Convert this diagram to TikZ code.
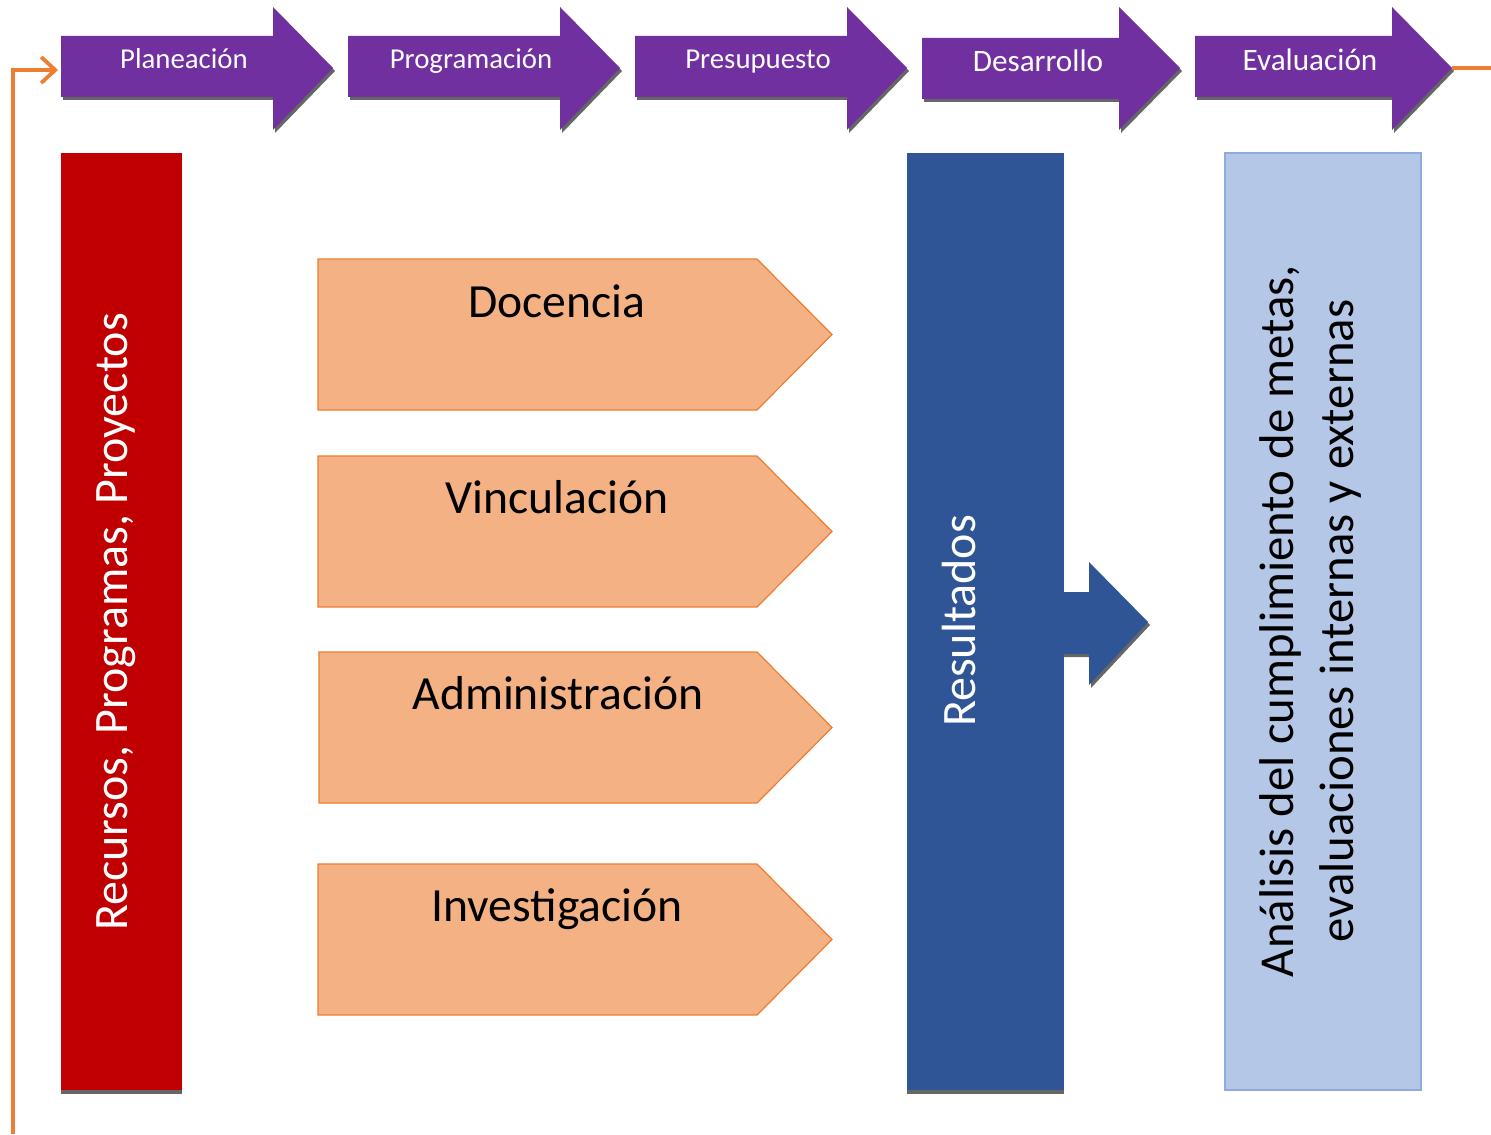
\documentclass[tikz,border=0pt]{standalone}
\usepackage{fontspec}
\setmainfont{Carlito}
\usepackage{tikz}
\usetikzlibrary{arrows.meta,shadows}

\definecolor{morado}{HTML}{7030A0}
\definecolor{rojo}{HTML}{C00000}
\definecolor{salmon}{HTML}{F4B183}
\definecolor{naranja}{HTML}{ED7D31}
\definecolor{azul}{HTML}{2F5597}
\definecolor{celeste}{HTML}{B4C7E7}
\definecolor{bordeceleste}{HTML}{8FAADC}

\tikzset{
  sombra/.style={drop shadow={shadow xshift=1pt, shadow yshift=-1.5pt, fill=black!60, opacity=1}},
  sombrabaja/.style={drop shadow={shadow xshift=0pt, shadow yshift=-2pt, fill=black!60, opacity=1}},
  etapa/.style={fill=morado, sombra},
  etapatxt/.style={text=white, anchor=base, inner sep=0pt},
  area/.style={fill=salmon, draw=naranja, line width=0.6pt},
  areatxt/.style={anchor=base, inner sep=0pt, font=\fontsize{23.8}{28}\selectfont},
  retro/.style={draw=naranja, line width=1.9pt},
  vertical/.style={text=white, rotate=90, anchor=base, inner sep=0pt, font=\fontsize{24}{30}\selectfont}
}

\begin{document}
\begin{tikzpicture}[x=0.5pt, y=-0.5pt]
  \useasboundingbox (0,0) rectangle (1491,1134);

  % etapas del proceso
  \fill[etapa] (61,36) -- (273,36) -- (273,7) -- (333,68) -- (273,130) -- (273,97) -- (61,97) -- cycle;
  \fill[etapa] (348,36) -- (560,36) -- (560,7) -- (620,68) -- (560,130) -- (560,97) -- (348,97) -- cycle;
  \fill[etapa] (635,36) -- (847,36) -- (847,7) -- (907,68) -- (847,130) -- (847,97) -- (635,97) -- cycle;
  \fill[etapa] (922,38) -- (1119,38) -- (1119,7) -- (1180,68) -- (1119,130) -- (1119,99) -- (922,99) -- cycle;
  \fill[etapa] (1195,36) -- (1392,36) -- (1392,7) -- (1452,68) -- (1392,130) -- (1392,97) -- (1195,97) -- cycle;

  \node[etapatxt, font=\fontsize{14.4}{16}\selectfont] (planeacion) at (184,69) {Planeación};
  \node[etapatxt, font=\fontsize{14.4}{16}\selectfont] (programacion) at (471,69) {Programación};
  \node[etapatxt, font=\fontsize{14.4}{16}\selectfont] (presupuesto) at (758,69) {Presupuesto};
  \node[etapatxt, font=\fontsize{15.6}{18}\selectfont] (desarrollo) at (1038,72) {Desarrollo};
  \node[etapatxt, font=\fontsize{15.6}{18}\selectfont] (evaluacion) at (1310,71) {Evaluación};

  % linea de retroalimentacion
  \coordinate (inicio) at (13,1134);
  \coordinate (codo) at (13,70);
  \coordinate (entrada) at (58,70);
  \coordinate (salida) at (1452,68);
  \coordinate (fin) at (1491,68);
  \draw[retro, -{Straight Barb[length=7pt,width=13pt]}] (inicio) -- (codo) -- (entrada);
  \draw[retro] (salida) -- (fin);

  % planeacion
  \fill[rojo, sombrabaja] (61,153) rectangle (182,1090);
  \node[vertical] (recursos) at (127,622) {Recursos, Programas, Proyectos};

  % areas
  \draw[area] (318,259) -- (757,259) -- (832,334.5) -- (757,410) -- (318,410) -- cycle;
  \draw[area] (318,456) -- (757,456) -- (832,531.5) -- (757,607) -- (318,607) -- cycle;
  \draw[area] (319,652) -- (757,652) -- (832,727.5) -- (757,803) -- (319,803) -- cycle;
  \draw[area] (318,864) -- (757,864) -- (832,939.5) -- (757,1015) -- (318,1015) -- cycle;

  \node[areatxt] (docencia) at (557,317) {Docencia};
  \node[areatxt] (vinculacion) at (557,513) {Vinculación};
  \node[areatxt] (administracion) at (558,709) {Administración};
  \node[areatxt] (investigacion) at (557,921) {Investigación};

  % resultados
  \fill[azul, sombra] (1050,592) -- (1089,592) -- (1089,562) -- (1148,622) -- (1089,685) -- (1089,654) -- (1050,654) -- cycle;
  \fill[azul, sombrabaja] (907,153) rectangle (1064,1090);
  \node[vertical] (resultados) at (975,621) {Resultados};

  % evaluacion
  \draw[fill=celeste, draw=bordeceleste, line width=0.6pt] (1225,153) rectangle (1421,1090);
  \node[vertical, text=black, anchor=center, align=center, font=\fontsize{24.4}{30}\selectfont] (analisis) at (1310,621)
    {Análisis del cumplimiento de metas,\\ evaluaciones internas y externas};
\end{tikzpicture}
\end{document}
